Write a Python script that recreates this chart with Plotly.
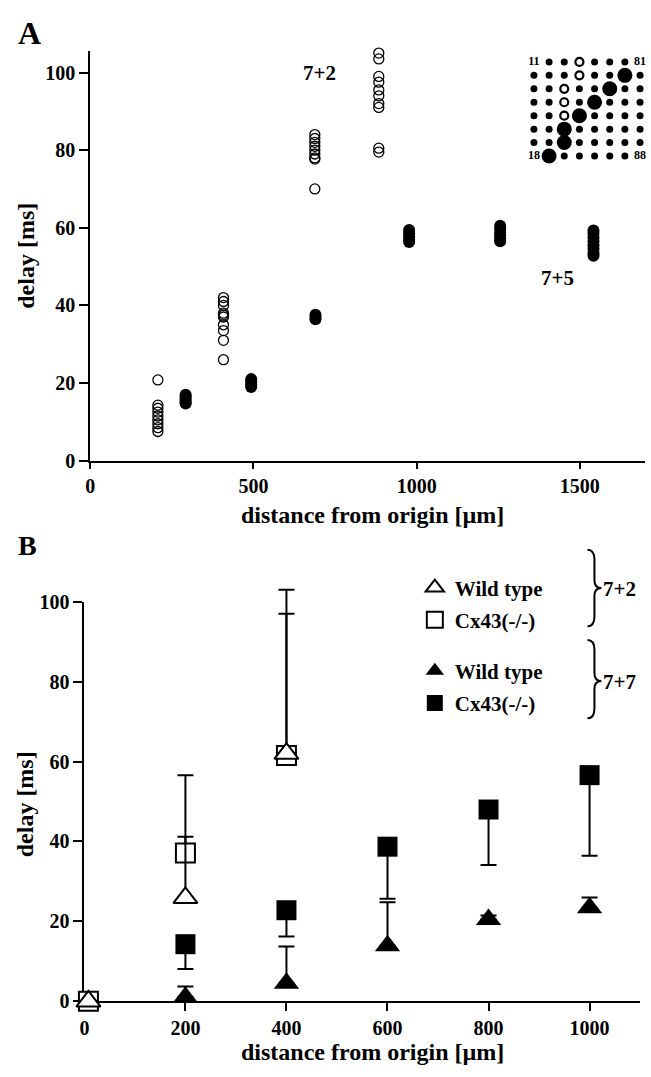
import plotly.graph_objects as go

W, H = 651, 1077
FONT = "Liberation Serif"

# ---------------- Panel A data ----------------
a_open_dist = [207, 408, 688, 884]
a_open_delay = [
    [20.8, 14.3, 13.5, 12.5, 11.5, 10.5, 9.5, 8.5, 7.5],
    [42, 41, 40, 38, 37.5, 37, 35, 33.5, 31, 26],
    [84, 83, 82, 81, 80, 79, 78, 77.7, 70],
    [105, 103.5, 99, 97.5, 95.5, 94, 92, 91, 80.5, 79.5],
]
a_fill_dist = [292, 493, 690, 977, 1256, 1542]
a_fill_delay = [
    [17, 16.5, 16, 15.5, 15, 14.7],
    [21, 20.3, 19.7, 19],
    [37.6, 37, 36.4],
    [59.4, 58.6, 57.8, 57, 56.3],
    [60.5, 59.7, 58.8, 58, 57.2, 56.5],
    [59.3, 58.5, 57.5, 56.5, 55.5, 54.5, 53.5, 52.8],
]
a_xticks = [0, 500, 1000, 1500]
a_yticks = [0, 20, 40, 60, 80, 100]

# inset electrode grid (column, row)
grid_n = 8
ring_cells = [(4, 1), (4, 2), (3, 3), (3, 4), (3, 5)]
big_cells = [(7, 2), (6, 3), (5, 4), (4, 5), (3, 6), (3, 7), (2, 8)]
label_cells = {"11": (1, 1), "81": (8, 1), "18": (1, 8), "88": (8, 8)}

# ---------------- Panel B data ----------------
b_open_dist = [8, 200, 400]
b_wt72 = [0, 25.9, 62]
b_wt72_up = [0, 15.3, 35]
b_ko72 = [0, 37.1, 61.5]
b_ko72_up = [0, 19.5, 41.5]
b_fill_dist = [200, 400, 600, 800, 1000]
b_wt77 = [1.0, 4.5, 13.9, 20.5, 23.4]
b_wt77_up = [2.7, 9.2, 10.9, 1.0, 2.6]
b_ko77 = [14.3, 22.8, 38.7, 48, 56.6]
b_ko77_down = [6.2, 6.6, 13.0, 13.9, 20.2]
b_xticks = [0, 200, 400, 600, 800, 1000]
b_yticks = [0, 20, 40, 60, 80, 100]


def X(px):
    return px / W


def Y(py):
    return 1 - py / H


fig = go.Figure()

# Panel A scatter
ox, oy = [], []
for d, ys in zip(a_open_dist, a_open_delay):
    ox += [d] * len(ys)
    oy += ys
fx, fy = [], []
for d, ys in zip(a_fill_dist, a_fill_delay):
    fx += [d] * len(ys)
    fy += ys

fig.add_trace(go.Scatter(x=ox, y=oy, mode="markers", showlegend=False,
                         marker=dict(symbol="circle-open", size=10, color="black",
                                     line=dict(width=1.3, color="black")),
                         xaxis="x", yaxis="y", cliponaxis=False))
fig.add_trace(go.Scatter(x=fx, y=fy, mode="markers", showlegend=False,
                         marker=dict(symbol="circle", size=12, color="black"),
                         xaxis="x", yaxis="y", cliponaxis=False))

# Inset grid
special = set(ring_cells) | set(big_cells) | set(label_cells.values())
small_cells = [(c, r) for r in range(1, grid_n + 1) for c in range(1, grid_n + 1)
               if (c, r) not in special]
fig.add_trace(go.Scatter(x=[c for c, r in small_cells], y=[r for c, r in small_cells],
                         mode="markers", showlegend=False,
                         marker=dict(symbol="circle", size=7, color="black"),
                         xaxis="x3", yaxis="y3", cliponaxis=False))
fig.add_trace(go.Scatter(x=[c for c, r in ring_cells], y=[r for c, r in ring_cells],
                         mode="markers", showlegend=False,
                         marker=dict(symbol="circle-open", size=8, color="black",
                                     line=dict(width=2.2, color="black")),
                         xaxis="x3", yaxis="y3", cliponaxis=False))
fig.add_trace(go.Scatter(x=[c for c, r in big_cells], y=[r for c, r in big_cells],
                         mode="markers", showlegend=False,
                         marker=dict(symbol="circle", size=15, color="black"),
                         xaxis="x3", yaxis="y3", cliponaxis=False))
fig.add_trace(go.Scatter(x=[v[0] for v in label_cells.values()],
                         y=[v[1] for v in label_cells.values()],
                         text=list(label_cells.keys()), mode="text", showlegend=False,
                         textfont=dict(family=FONT, size=12, color="black", weight="bold"),
                         xaxis="x3", yaxis="y3", cliponaxis=False))


# Panel B
def errs(up=None, down=None, n=0):
    return dict(type="data", symmetric=False,
                array=up if up is not None else [0] * n,
                arrayminus=down if down is not None else [0] * n,
                color="black", thickness=2, width=8)


# open (7+2) series live on an unclipped twin y-axis (same scale, taller domain)
fig.add_trace(go.Scatter(x=b_open_dist, y=b_ko72, mode="markers", name="Cx43(-/-)",
                         legend="legend", legendrank=2, legendgroup="a2",
                         marker=dict(symbol="square", size=19, color="white",
                                     line=dict(width=2, color="black")),
                         error_y=errs(up=b_ko72_up, n=3),
                         xaxis="x2", yaxis="y4", cliponaxis=False))
fig.add_trace(go.Scatter(x=b_open_dist, y=b_wt72, mode="markers", name="Wild type",
                         legend="legend", legendrank=1, legendgroup="a1",
                         marker=dict(symbol="triangle-up", size=21, color="white",
                                     line=dict(width=2, color="black")),
                         error_y=errs(up=b_wt72_up, n=3),
                         xaxis="x2", yaxis="y4", cliponaxis=False))
fig.add_trace(go.Scatter(x=b_fill_dist, y=b_ko77, mode="markers", name="Cx43(-/-)",
                         legend="legend2", legendrank=2, legendgroup="b2",
                         marker=dict(symbol="square", size=20, color="black",
                                     line=dict(width=0)),
                         error_y=errs(down=b_ko77_down, n=5),
                         xaxis="x2", yaxis="y2", cliponaxis=False))
fig.add_trace(go.Scatter(x=b_fill_dist, y=b_wt77, mode="markers", name="Wild type",
                         legend="legend2", legendrank=1, legendgroup="b1",
                         marker=dict(symbol="triangle-up", size=22, color="black",
                                     line=dict(width=0)),
                         error_y=errs(up=b_wt77_up, n=5),
                         xaxis="x2", yaxis="y2", cliponaxis=False))

tickfont = dict(family=FONT, size=20, color="black", weight="bold")
common = dict(showline=True, linewidth=2, linecolor="black", ticks="outside",
              tickwidth=2, tickcolor="black", showgrid=False, zeroline=False,
              tickfont=tickfont)

legend_common = dict(font=dict(family=FONT, size=21, color="black", weight="bold"),
                     bgcolor="rgba(0,0,0,0)", borderwidth=0, xanchor="left",
                     yanchor="top", tracegroupgap=2, itemsizing="trace")

B_TOP, B_BOT, B_EXT = 603, 1011, 580
fig.update_layout(
    width=W, height=H, margin=dict(l=0, r=0, t=0, b=0),
    paper_bgcolor="white", plot_bgcolor="rgba(0,0,0,0)",
    font=dict(family=FONT, size=20, color="black", weight="bold"),
    xaxis=dict(domain=[X(86), X(645)], range=[0, 1700], tickvals=a_xticks,
               ticklen=6, anchor="y", **common),
    yaxis=dict(domain=[Y(459), Y(41)], range=[0, 105.5], tickvals=a_yticks,
               ticklen=9, anchor="x", **common),
    xaxis2=dict(domain=[X(80), X(640)], range=[0, 1100], tickvals=b_xticks,
                ticklen=8, anchor="y2", **common),
    yaxis2=dict(domain=[Y(B_BOT), Y(B_TOP)], range=[0, 100], tickvals=b_yticks,
                ticklen=9, anchor="x2", **common),
    yaxis4=dict(domain=[Y(B_BOT), Y(B_EXT)],
                range=[0, 100 * (B_BOT - B_EXT) / (B_BOT - B_TOP)],
                visible=False, anchor="x2"),
    xaxis3=dict(domain=[X(525.4), X(647.6)], range=[0.5, 8.5], visible=False,
                anchor="y3"),
    yaxis3=dict(domain=[Y(154.9), Y(45.1)], range=[8.5, 0.5], visible=False,
                anchor="x3"),
    legend=dict(x=X(413), y=Y(568), **legend_common),
    legend2=dict(x=X(413), y=Y(653), **legend_common),
)

ann_font = dict(family=FONT, color="black", weight="bold")
anns = [
    dict(text="A", x=X(25), y=Y(22), size=32),
    dict(text="B", x=X(23), y=Y(546), size=28),
    dict(text="7+2", x=X(317), y=Y(63), size=21),
    dict(text="7+5", x=X(557), y=Y(273), size=21),
    dict(text="distance from origin [\u00b5m]", x=X(370), y=Y(514), size=24),
    dict(text="distance from origin [\u00b5m]", x=X(370), y=Y(1063), size=24),
]
for a in anns:
    fig.add_annotation(text=a["text"], x=a["x"], y=a["y"], xref="paper", yref="paper",
                       showarrow=False, xanchor="center", yanchor="middle",
                       font=dict(size=a["size"], **ann_font))
for yc in (250, 810):
    fig.add_annotation(text="delay [ms]", x=X(21), y=Y(yc), xref="paper", yref="paper",
                       showarrow=False, textangle=-90, xanchor="center", yanchor="middle",
                       font=dict(size=24, **ann_font))
for txt, yc in (("7+2", 590), ("7+7", 685)):
    fig.add_annotation(text=txt, x=X(601), y=Y(yc), xref="paper", yref="paper",
                       showarrow=False, xanchor="left", yanchor="middle",
                       font=dict(size=21, **ann_font))


def brace(top, bot, tip):
    xe, xb, xt = 587, 594, 601
    return (f"M {X(xe)},{Y(top)} Q {X(xb)},{Y(top)} {X(xb)},{Y(top + 10)} "
            f"L {X(xb)},{Y(tip - 8)} Q {X(xb)},{Y(tip)} {X(xt)},{Y(tip)} "
            f"Q {X(xb)},{Y(tip)} {X(xb)},{Y(tip + 8)} "
            f"L {X(xb)},{Y(bot - 10)} Q {X(xb)},{Y(bot)} {X(xe)},{Y(bot)}")


for top, bot, tip in ((550, 628, 589), (642, 722, 684)):
    fig.add_shape(type="path", path=brace(top, bot, tip), xref="paper", yref="paper",
                  line=dict(color="black", width=2))

fig.write_html("out.html")
